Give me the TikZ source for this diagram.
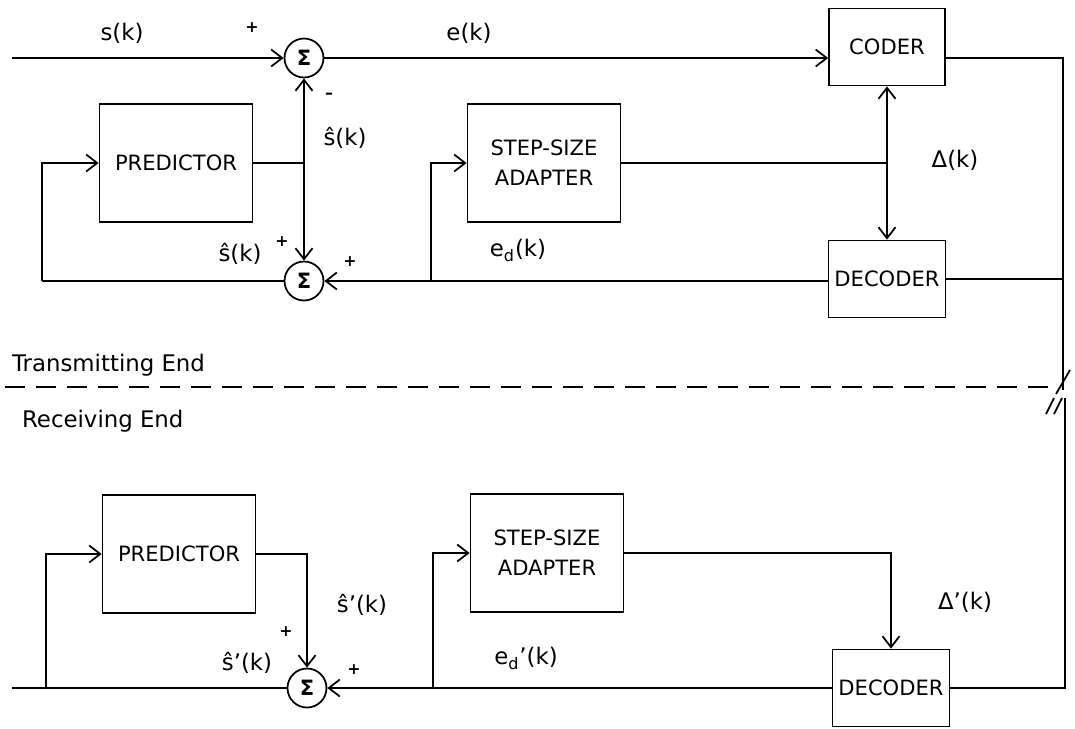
\documentclass[tikz,border=0pt]{standalone}
\usepackage{fontspec}
\setmainfont{DejaVu Sans}
\usetikzlibrary{arrows.meta, positioning, calc}
\tikzset{
  block/.style={rectangle, draw=black, line width=1pt, minimum width=3.06cm, minimum height=2.36cm, align=center, font=\fontsize{12}{17}\selectfont},
  smallblock/.style={block, minimum width=2.32cm, minimum height=1.54cm},
  sumnode/.style={circle, draw=black, line width=1pt, minimum size=0.78cm, inner sep=0pt, font=\bfseries\large},
  arrow/.style={line width=1pt,-{Straight Barb[length=2.2mm,width=3.4mm]}},
  wire/.style={line width=1pt},
  lbl/.style={font=\fontsize{13}{15}\selectfont, inner sep=1pt},
  sign/.style={font=\bfseries\small, inner sep=0pt}
}

\begin{document}
\begin{tikzpicture}[x=0.02cm, y=-0.02cm]
    \useasboundingbox (0,0) rectangle (1075,728);

    % ==========================================
    % 1. Transmitting end
    % ==========================================

    % Bloques
    \node[sumnode] (sumA) at (304,58) {Σ};
    \node[sumnode] (sumB) at (304,281) {Σ};
    \node[block] (pred) at (176,163) {PREDICTOR};
    \node[block] (adapt) at (544,163) {STEP-SIZE\\ADAPTER};
    \node[smallblock] (coder) at (887,47) {CODER};
    \node[smallblock] (dec) at (887,279) {DECODER};

    % Puntos de union
    \coordinate (in) at (12,58);
    \coordinate (pJ) at (304,163);
    \coordinate (dJ) at (887,163);
    \coordinate (aJ) at (431,281);
    \coordinate (fb) at (42,281);
    \coordinate (rA) at (1063,58);
    \coordinate (rB) at (1063,279);
    \coordinate (brk) at (1063,390);

    % Conexiones
    \draw[arrow] (in) -- (sumA.west);
    \draw[arrow] (sumA.east) -- (coder.west |- sumA.east);
    \draw[wire] (coder.east |- sumA.east) -- (rA) -- (brk);
    \draw[wire] (dec.east) -- (rB);
    \draw[wire] (pred.east) -- (pJ);
    \draw[arrow] (pJ) -- (sumA.south);
    \draw[arrow] (pJ) -- (sumB.north);
    \draw[wire] (adapt.east) -- (dJ);
    \draw[arrow] (dJ) -- (coder.south);
    \draw[arrow] (dJ) -- (dec.north);
    \draw[arrow] (dec.west |- sumB.east) -- (sumB.east);
    \draw[arrow] (aJ) |- (adapt.west);
    \draw[wire] (sumB.west) -- (fb);
    \draw[arrow] (fb) |- (pred.west);

    % Etiquetas
    \node[lbl] (sk) at (122,33) {s(k)};
    \node[lbl] (ek) at (469,33) {e(k)};
    \node[sign] (pA) at (252,28) {+};
    \node[sign] (mA) at (329,96) {--};
    \node[lbl] (shA) at (345,138) {ŝ(k)};
    \node[lbl] (shB) at (240,254) {ŝ(k)};
    \node[sign] (pB1) at (282,242) {+};
    \node[sign] (pB2) at (350,262) {+};
    \node[lbl] (edk) at (518,250) {e\textsubscript{d}(k)};
    \node[lbl] (dk) at (955,160) {Δ(k)};

    % ==========================================
    % 2. Separacion
    % ==========================================
    \node[lbl, anchor=west] (tx) at (10,365) {Transmitting End};
    \node[lbl, anchor=west] (rx) at (20,421) {Receiving End};
    \draw[line width=1pt, dash pattern=on 0.4cm off 0.22cm] (5,387) -- (1056,387);

    % Marcas de corte
    \draw[line width=1pt] (1056,394) -- (1070,370);
    \draw[line width=1pt] (1046,414) -- (1054,398);
    \draw[line width=1pt] (1054,414) -- (1062,398);

    % ==========================================
    % 3. Receiving end
    % ==========================================

    % Bloques
    \node[block] (rpred) at (179,554) {PREDICTOR};
    \node[block] (radapt) at (547,553) {STEP-SIZE\\ADAPTER};
    \node[smallblock] (rdec) at (891,688) {DECODER};
    \node[sumnode] (rsum) at (307,688) {Σ};

    % Puntos de union
    \coordinate (rOut) at (12,688);
    \coordinate (rfb) at (46,688);
    \coordinate (raJ) at (433,688);
    \coordinate (rR) at (1065,688);
    \coordinate (rbrk) at (1065,398);

    % Conexiones
    \draw[wire] (rdec.east) -- (rR) -- (rbrk);
    \draw[arrow] (rdec.west) -- (rsum.east);
    \draw[wire] (rsum.west) -- (rOut);
    \draw[arrow] (rfb) |- (rpred.west);
    \draw[arrow] (raJ) |- (radapt.west);
    \draw[arrow] (rpred.east) -| (rsum.north);
    \draw[arrow] (radapt.east) -| (rdec.north);

    % Etiquetas
    \node[lbl] (rshA) at (362,605) {ŝ'(k)};
    \node[lbl] (rshB) at (247,663) {ŝ'(k)};
    \node[sign] (rp1) at (286,632) {+};
    \node[sign] (rp2) at (354,670) {+};
    \node[lbl] (redk) at (526,658) {e\textsubscript{d}'(k)};
    \node[lbl] (rdk) at (965,602) {Δ'(k)};

\end{tikzpicture}
\end{document}
